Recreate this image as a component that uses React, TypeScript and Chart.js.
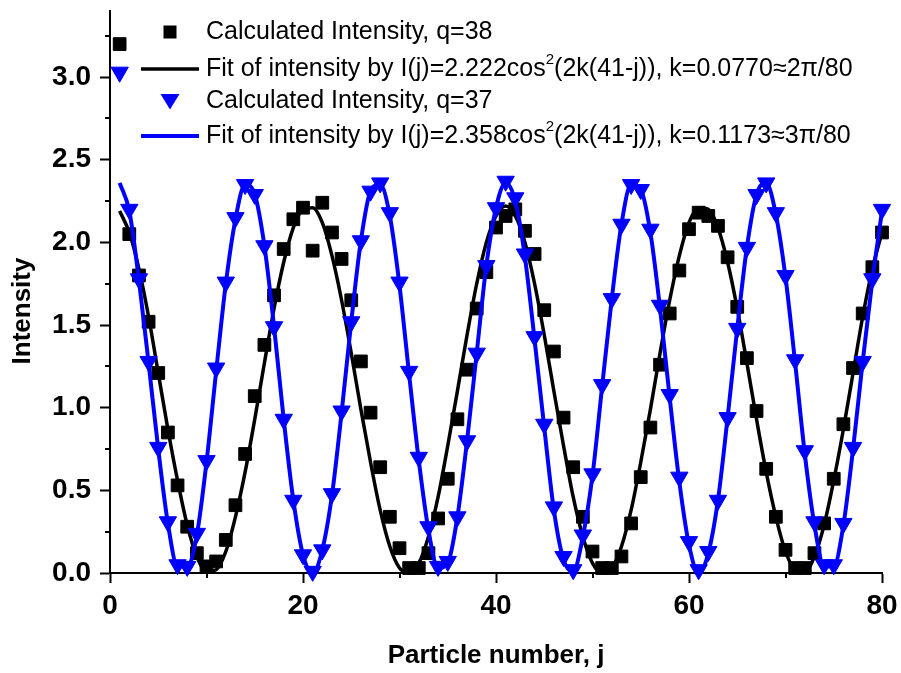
import React, { useEffect, useRef } from 'react';
import { Chart, registerables } from 'chart.js';

Chart.register(...registerables);

// Particle number j (categories)
const particleNumbers: number[] = Array.from({ length: 80 }, (_, i) => i + 1);

// Calculated intensity, q=38 (black squares)
const calcQ38: number[] = [
  3.20, 2.05, 1.80, 1.52, 1.21, 0.85, 0.53, 0.28, 0.12, 0.04,
  0.07, 0.20, 0.41, 0.72, 1.07, 1.38, 1.68, 1.96, 2.14, 2.21,
  1.95, 2.24, 2.06, 1.90, 1.65, 1.28, 0.97, 0.64, 0.34, 0.15,
  0.03, 0.03, 0.12, 0.33, 0.57, 0.93, 1.23, 1.60, 1.82, 2.09,
  2.16, 2.20, 2.07, 1.93, 1.59, 1.34, 0.94, 0.64, 0.34, 0.13,
  0.03, 0.03, 0.10, 0.30, 0.58, 0.88, 1.26, 1.57, 1.83, 2.08,
  2.18, 2.16, 2.10, 1.91, 1.61, 1.30, 0.98, 0.63, 0.34, 0.14,
  0.03, 0.03, 0.12, 0.30, 0.57, 0.90, 1.24, 1.57, 1.85, 2.06,
];

// Fit line for q=38 (black)
const fitQ38: number[] = [
  2.19, 2.06, 1.84, 1.55, 1.21, 0.87, 0.56, 0.29, 0.10, 0.01,
  0.02, 0.13, 0.34, 0.61, 0.93, 1.27, 1.60, 1.88, 2.09, 2.20,
  2.21, 2.12, 1.92, 1.65, 1.33, 0.99, 0.67, 0.38, 0.16, 0.03,
  0.00, 0.06, 0.22, 0.46, 0.77, 1.10, 1.44, 1.75, 2.00, 2.16,
  2.22, 2.16, 2.00, 1.75, 1.44, 1.10, 0.77, 0.46, 0.22, 0.06,
  0.00, 0.03, 0.16, 0.38, 0.67, 0.99, 1.33, 1.65, 1.92, 2.12,
  2.21, 2.20, 2.09, 1.88, 1.60, 1.27, 0.93, 0.61, 0.34, 0.13,
  0.02, 0.01, 0.10, 0.29, 0.56, 0.87, 1.21, 1.55, 1.84, 2.06,
];

// Calculated intensity, q=37 (blue triangles)
const calcQ37: number[] = [
  3.03, 2.20, 1.78, 1.28, 0.76, 0.31, 0.05, 0.04, 0.24, 0.68,
  1.24, 1.76, 2.15, 2.35, 2.29, 1.98, 1.49, 0.93, 0.44, 0.11,
  0.01, 0.14, 0.48, 0.98, 1.52, 2.01, 2.31, 2.36, 2.18, 1.76,
  1.22, 0.70, 0.28, 0.04, 0.07, 0.34, 0.80, 1.33, 1.86, 2.21,
  2.37, 2.27, 1.93, 1.43, 0.90, 0.40, 0.10, 0.02, 0.23, 0.60,
  1.14, 1.66, 2.11, 2.35, 2.32, 2.08, 1.62, 1.08, 0.58, 0.19,
  0.02, 0.13, 0.44, 0.94, 1.48, 1.97, 2.29, 2.36, 2.18, 1.80,
  1.29, 0.74, 0.31, 0.05, 0.05, 0.30, 0.76, 1.28, 1.78, 2.20,
];

// Fit line for q=37 (blue)
const fitQ37: number[] = [
  2.36, 2.19, 1.77, 1.27, 0.75, 0.30, 0.04, 0.04, 0.23, 0.67,
  1.22, 1.75, 2.14, 2.35, 2.29, 1.98, 1.49, 0.93, 0.44, 0.11,
  0.00, 0.14, 0.47, 0.97, 1.52, 2.01, 2.31, 2.35, 2.16, 1.74,
  1.20, 0.68, 0.26, 0.03, 0.06, 0.34, 0.80, 1.33, 1.86, 2.21,
  2.36, 2.25, 1.91, 1.41, 0.88, 0.38, 0.08, 0.01, 0.22, 0.59,
  1.13, 1.66, 2.11, 2.35, 2.32, 2.06, 1.60, 1.06, 0.55, 0.17,
  0.00, 0.12, 0.44, 0.94, 1.48, 1.97, 2.29, 2.36, 2.17, 1.79,
  1.27, 0.72, 0.29, 0.04, 0.04, 0.29, 0.75, 1.28, 1.77, 2.19,
];

const xMinorTicks: number[] = [10, 30, 50, 70];
const yMinorTicks: number[] = [0.25, 0.75, 1.25, 1.75, 2.25, 2.75, 3.25];

const legendLabels: string[] = [
  'Calculated Intensity, q=38',
  'Fit of intensity by I(j)=2.222cos\u00b2(2k(41-j)), k=0.0770\u22482\u03c0/80',
  'Calculated Intensity, q=37',
  'Fit of intensity by I(j)=2.358cos\u00b2(2k(41-j)), k=0.1173\u22483\u03c0/80',
];

const xTitle = 'Particle number, j';
const yTitle = 'Intensity';

const BLACK = '#000000';
const BLUE = '#0000ff';
const FONT = '"Liberation Sans", Arial, Helvetica, sans-serif';

const toPoints = (vals: number[]) => vals.map((v, i) => ({ x: particleNumbers[i], y: v }));

const decorPlugin = {
  id: 'decor',
  afterDraw(chart: any) {
    const { ctx, chartArea, scales } = chart;
    const xs = scales.x;
    const ys = scales.y;
    ctx.save();
    // minor ticks
    ctx.strokeStyle = BLACK;
    ctx.lineWidth = 2;
    ctx.beginPath();
    yMinorTicks.forEach((v) => {
      const y = Math.round(ys.getPixelForValue(v));
      ctx.moveTo(chartArea.left - 5, y);
      ctx.lineTo(chartArea.left, y);
    });
    xMinorTicks.forEach((v) => {
      const x = Math.round(xs.getPixelForValue(v));
      ctx.moveTo(x, chartArea.bottom);
      ctx.lineTo(x, chartArea.bottom + 5);
    });
    ctx.stroke();

    // y title
    ctx.save();
    ctx.translate(23, 311);
    ctx.rotate(-Math.PI / 2);
    ctx.font = `bold 26px ${FONT}`;
    ctx.fillStyle = BLACK;
    ctx.textAlign = 'center';
    ctx.textBaseline = 'middle';
    ctx.fillText(yTitle, 0, 0);
    ctx.restore();

    // legend
    const markerX = 170;
    const lineX0 = 141;
    const lineX1 = 199;
    const textX = 206;
    const rowY = [32, 69, 101, 136];
    const drawText = (label: string, y: number) => {
      ctx.fillStyle = BLACK;
      ctx.textBaseline = 'middle';
      ctx.textAlign = 'left';
      const parts = label.split('\u00b2');
      ctx.font = `25px ${FONT}`;
      let x = textX;
      ctx.fillText(parts[0], x, y);
      x += ctx.measureText(parts[0]).width;
      if (parts.length > 1) {
        ctx.font = `15px ${FONT}`;
        ctx.fillText('2', x, y - 9);
        x += ctx.measureText('2').width;
        ctx.font = `25px ${FONT}`;
        ctx.fillText(parts[1], x, y);
      }
    };
    // row 1: square
    ctx.fillStyle = BLACK;
    ctx.fillRect(markerX - 6.5, rowY[0] - 6.5, 13, 13);
    drawText(legendLabels[0], rowY[0]);
    // row 2: black line
    ctx.strokeStyle = BLACK;
    ctx.lineWidth = 3.5;
    ctx.beginPath();
    ctx.moveTo(lineX0, rowY[1]);
    ctx.lineTo(lineX1, rowY[1]);
    ctx.stroke();
    drawText(legendLabels[1], rowY[1]);
    // row 3: triangle
    ctx.fillStyle = BLUE;
    ctx.beginPath();
    ctx.moveTo(markerX - 9.5, rowY[2] - 7);
    ctx.lineTo(markerX + 9.5, rowY[2] - 7);
    ctx.lineTo(markerX, rowY[2] + 8.5);
    ctx.closePath();
    ctx.fill();
    drawText(legendLabels[2], rowY[2]);
    // row 4: blue line
    ctx.strokeStyle = BLUE;
    ctx.lineWidth = 4;
    ctx.beginPath();
    ctx.moveTo(lineX0, rowY[3]);
    ctx.lineTo(lineX1, rowY[3]);
    ctx.stroke();
    drawText(legendLabels[3], rowY[3]);
    ctx.restore();
  },
};

export default function App() {
  const canvasRef = useRef<HTMLCanvasElement | null>(null);

  useEffect(() => {
    const canvas = canvasRef.current;
    if (!canvas) return;
    const chart = new Chart(canvas, {
      type: 'line',
      data: {
        datasets: [
          {
            label: legendLabels[3],
            data: toPoints(fitQ37),
            borderColor: BLUE,
            borderWidth: 4,
            pointRadius: 0,
            fill: false,
            cubicInterpolationMode: 'monotone',
            clip: false as any,
            order: 0,
          },
          {
            label: legendLabels[2],
            data: toPoints(calcQ37),
            showLine: false,
            pointStyle: 'triangle',
            rotation: 180,
            pointRadius: 10,
            pointBackgroundColor: BLUE,
            pointBorderColor: BLUE,
            pointBorderWidth: 1,
            clip: false as any,
            order: 1,
          },
          {
            label: legendLabels[1],
            data: toPoints(fitQ38),
            borderColor: BLACK,
            borderWidth: 3.5,
            pointRadius: 0,
            fill: false,
            cubicInterpolationMode: 'monotone',
            clip: false as any,
            order: 2,
          },
          {
            label: legendLabels[0],
            data: toPoints(calcQ38),
            showLine: false,
            pointStyle: 'rect',
            pointRadius: 9,
            pointBackgroundColor: BLACK,
            pointBorderColor: BLACK,
            pointBorderWidth: 1,
            clip: false as any,
            order: 3,
          },
        ],
      },
      options: {
        responsive: false,
        animation: false,
        devicePixelRatio: 1,
        layout: { padding: { top: 6, right: 19, left: 0, bottom: 0 } },
        plugins: {
          legend: { display: false },
          tooltip: { enabled: false },
        },
        scales: {
          x: {
            type: 'linear',
            min: 0,
            max: 80,
            afterFit: (scale: any) => {
              scale.height = 100;
              scale.paddingLeft = 0;
              scale.paddingRight = 0;
            },
            ticks: {
              stepSize: 20,
              color: BLACK,
              padding: 6,
              font: { family: FONT, weight: 'bold', size: 28 },
              includeBounds: false,
            },
            grid: {
              drawOnChartArea: false,
              drawTicks: true,
              tickLength: 10,
              tickWidth: 2,
              tickColor: BLACK,
            },
            border: { display: true, color: BLACK, width: 2 },
            title: {
              display: true,
              text: xTitle,
              color: BLACK,
              font: { family: FONT, weight: 'bold', size: 26 },
              padding: { top: 0, bottom: 2 },
            },
          },
          y: {
            type: 'linear',
            min: 0,
            max: 3.4,
            afterFit: (scale: any) => {
              scale.width = 110;
              scale.paddingTop = 0;
              scale.paddingBottom = 0;
            },
            ticks: {
              stepSize: 0.5,
              color: BLACK,
              padding: 9,
              includeBounds: false,
              font: { family: FONT, weight: 'bold', size: 28 },
              callback: (v: any) => Number(v).toFixed(1),
            },
            grid: {
              drawOnChartArea: false,
              drawTicks: true,
              tickLength: 10,
              tickWidth: 2,
              tickColor: BLACK,
            },
            border: { display: true, color: BLACK, width: 2 },
          },
        },
      },
      plugins: [decorPlugin],
    } as any);
    return () => chart.destroy();
  }, []);

  return (
    <div style={{ position: 'fixed', left: 0, top: 0, width: 901, height: 673, background: '#fff' }}>
      <canvas ref={canvasRef} width={901} height={673} style={{ width: 901, height: 673, display: 'block' }} />
    </div>
  );
}
